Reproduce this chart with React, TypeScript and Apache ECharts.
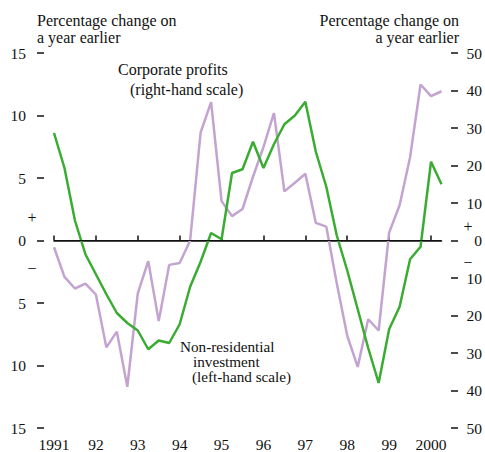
import React, { useEffect, useRef } from "react";
import * as echarts from "echarts";

const yearLabels = ["1991", "92", "93", "94", "95", "96", "97", "98", "99", "2000"];
const quarters: string[] = [];
for (let y = 1991; y <= 2000; y++) {
  for (let q = 1; q <= 4; q++) {
    if (y === 2000 && q > 2) break;
    quarters.push(`${y} Q${q}`);
  }
}

// Non-residential investment, % change on a year earlier (left-hand scale)
const investment = [
  8.6, 5.8, 1.6, -1.1, -2.7, -4.3, -5.8, -6.6, -7.2, -8.7, -8.0, -8.2, -6.7, -3.7, -1.7, 0.6, 0.1,
  5.4, 5.7, 7.9, 5.8, 7.7, 9.3, 10.0, 11.1, 7.1, 4.3, 0.4, -2.4, -5.5, -8.6, -11.4, -7.1, -5.3,
  -1.5, -0.5, 6.3, 4.5,
];

// Corporate profits, % change on a year earlier (right-hand scale)
const profits = [
  -1.8, -9.7, -12.8, -11.5, -14.4, -28.5, -24.3, -39, -14.1, -5.5, -21.5, -6.5, -6, 0, 28.8, 36.9,
  10.5, 6.5, 8.4, 17.0, 24.9, 34.0, 13.1, 15.4, 17.8, 4.7, 3.7, -11.4, -25.4, -33.7, -21, -24, 2.1,
  9.4, 22.2, 41.6, 38.5, 39.8,
];

const FONT = "Liberation Serif";

function txt(text: string, x: number, y: number, align = "left", vAlign = "top", fontSize = 16) {
  return {
    type: "text",
    silent: true,
    x,
    y,
    style: {
      text,
      fill: "#111",
      fontFamily: FONT,
      fontSize,
      align,
      verticalAlign: vAlign,
      textAlign: align,
      textVerticalAlign: vAlign,
    },
  };
}

export default function App() {
  const ref = useRef<HTMLDivElement>(null);
  useEffect(() => {
    if (!ref.current) return;
    const chart = echarts.init(ref.current, undefined, { renderer: "svg" });
    chart.setOption({
      animation: false,
      backgroundColor: "#fff",
      textStyle: { fontFamily: FONT },
      grid: { left: 54, right: 42.5, top: 53, bottom: 18.5, containLabel: false },
      xAxis: {
        type: "category",
        data: quarters,
        boundaryGap: false,
        axisLine: { show: true, lineStyle: { color: "#111", width: 1.5 } },
        axisTick: {
          show: true,
          inside: true,
          length: 5,
          interval: (i: number) => i % 4 === 0,
          lineStyle: { color: "#111", width: 1.5 },
        },
        axisLabel: {
          interval: (i: number) => i % 4 === 0,
          formatter: (_v: string, i: number) => (i % 4 === 0 ? yearLabels[i / 4] : ""),
          color: "#111",
          fontFamily: FONT,
          fontSize: 15.5,
          margin: 8,
        },
        splitLine: { show: false },
      },
      yAxis: [
        {
          type: "value",
          min: -15,
          max: 15,
          interval: 5,
          position: "left",
          offset: 10,
          axisLine: { show: false },
          axisTick: { show: true, length: 7, lineStyle: { color: "#111", width: 1.5 } },
          axisLabel: {
            formatter: (v: number) => String(Math.abs(v)),
            color: "#111",
            fontFamily: FONT,
            fontSize: 15.5,
            margin: 18,
          },
          splitLine: { show: false },
        },
        {
          type: "value",
          min: -50,
          max: 50,
          interval: 10,
          position: "right",
          offset: 9.5,
          axisLine: { show: false },
          axisTick: { show: true, length: 7, lineStyle: { color: "#111", width: 1.5 } },
          axisLabel: {
            formatter: (v: number) => String(Math.abs(v)),
            color: "#111",
            fontFamily: FONT,
            fontSize: 15.5,
            align: "right",
            margin: 31,
          },
          splitLine: { show: false },
        },
      ],
      series: [
        {
          name: "Corporate profits",
          type: "line",
          yAxisIndex: 1,
          data: profits,
          symbol: "none",
          lineStyle: { color: "#c3a3cf", width: 2.5 },
          z: 2,
        },
        {
          name: "Non-residential investment",
          type: "line",
          yAxisIndex: 0,
          data: investment,
          symbol: "none",
          lineStyle: { color: "#3aac32", width: 2.5 },
          z: 3,
          markLine: {
            silent: true,
            symbol: "none",
            label: { show: false },
            lineStyle: { color: "#111", width: 1, type: "solid" },
            data: [{ yAxis: 0 }],
          },
        },
      ],
      graphic: [
        txt("Percentage change on", 37, 12.5),
        txt("a year earlier", 37, 29),
        txt("Percentage change on", 459, 12.5, "right"),
        txt("a year earlier", 459, 29, "right"),
        txt("Corporate profits", 118, 61),
        txt("(right-hand scale)", 130, 81),
        txt("Non-residential", 180, 338.5, "left", "top", 15.2),
        txt("investment", 193, 353.8, "left", "top", 15.2),
        txt("(left-hand scale)", 192, 369.1, "left", "top", 15.2),
        txt("+", 32, 217, "center", "middle"),
        txt("\u2212", 32, 268, "center", "middle"),
        txt("+", 468, 226.5, "center", "middle"),
        txt("\u2212", 468, 262, "center", "middle"),
      ],
    });
    return () => chart.dispose();
  }, []);
  return (
    <div
      ref={ref}
      style={{ position: "fixed", left: 0, top: 0, width: 485, height: 452, background: "#fff" }}
    />
  );
}
